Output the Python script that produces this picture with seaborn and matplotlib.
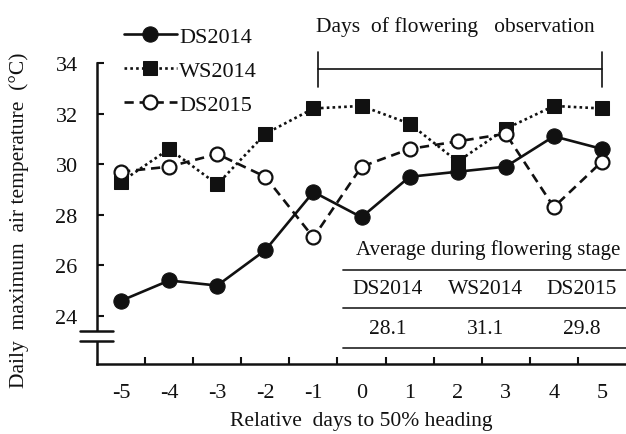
import matplotlib
matplotlib.use("Agg")
import matplotlib.pyplot as plt
import seaborn as sns
import pandas as pd
import numpy as np

days = [-5, -4, -3, -2, -1, 0, 1, 2, 3, 4, 5]
ds2014 = [24.6, 25.4, 25.2, 26.6, 28.9, 27.9, 29.5, 29.7, 29.9, 31.1, 30.6]
ws2014 = [29.3, 30.6, 29.2, 31.2, 32.2, 32.3, 31.6, 30.1, 31.4, 32.3, 32.2]
ds2015 = [29.7, 29.9, 30.4, 29.5, 27.1, 29.9, 30.6, 30.9, 31.2, 28.3, 30.1]
seasons = ["DS2014", "WS2014", "DS2015"]
averages = ["28.1", "31.1", "29.8"]

sns.set_theme(style="white")
plt.rcParams["font.family"] = ["Liberation Serif", "DejaVu Serif"]
plt.rcParams["axes.unicode_minus"] = False
ink = "#111111"

fig = plt.figure(figsize=(6.26, 4.35), dpi=100)
ax = fig.add_axes([0.155, 0.161, 0.845, 0.692])

df = pd.DataFrame({"day": days, "DS2014": ds2014, "WS2014": ws2014, "DS2015": ds2015})

sns.lineplot(data=df, x="day", y="DS2014", ax=ax, color=ink, lw=1.9, ls="-",
             marker="o", markersize=11, markerfacecolor=ink, markeredgecolor=ink,
             label="DS2014")
sns.lineplot(data=df, x="day", y="WS2014", ax=ax, color=ink, lw=1.9, ls=(0, (1, 1.2)),
             marker="s", markersize=10, markerfacecolor=ink, markeredgecolor=ink,
             label="WS2014")
sns.lineplot(data=df, x="day", y="DS2015", ax=ax, color=ink, lw=1.9, ls=(0, (3.5, 2.2)),
             marker="o", markersize=10, markerfacecolor="white", markeredgecolor=ink,
             markeredgewidth=1.6, label="DS2015")

ax.set_xlim(-5.5, 5.5)
ax.set_ylim(22.1, 34)
ax.set_yticks([24, 26, 28, 30, 32, 34])
ax.set_xticks(days)
ax.set_xticks(np.arange(-4.5, 5.0, 1.0), minor=True)
ax.tick_params(axis="x", which="major", length=0, labelsize=16, colors=ink, pad=14)
ax.tick_params(axis="x", which="minor", length=5, width=1.5, direction="in", color=ink, bottom=True)
ax.tick_params(axis="y", which="major", length=5, width=1.5, direction="in", labelsize=16,
               colors=ink, pad=14, left=True)
for s in ["top", "right"]:
    ax.spines[s].set_visible(False)
for s in ["left", "bottom"]:
    ax.spines[s].set_color(ink)
    ax.spines[s].set_linewidth(1.8)

ax.set_xlabel("Relative  days to 50% heading", fontsize=15.5, color=ink, labelpad=6.5)
ax.set_ylabel("Daily  maximum  air temperature  (°C)", fontsize=15.5, color=ink)
ax.yaxis.set_label_coords(-0.128, 0.48)

# axis break
tb = ax.get_yaxis_transform()
ax.add_patch(plt.Rectangle((-0.03, 23.0), 0.06, 0.38, transform=tb, facecolor="white",
                           edgecolor="none", clip_on=False, zorder=5))
for yb in [23.4, 23.0]:
    ax.plot([-0.032, 0.03], [yb, yb], transform=tb, color=ink, lw=1.8, clip_on=False, zorder=6)

# flowering bracket
ax.plot([-0.9, 5.0], [33.76, 33.76], color=ink, lw=1.2, clip_on=False)
for xb in [-0.9, 5.0]:
    ax.plot([xb, xb], [34.43, 33.05], color=ink, lw=1.2, clip_on=False)
ax.text(1.95, 35.45, "Days  of flowering   observation", fontsize=15.5, color=ink,
        ha="center", va="center")

# table
for yl in [25.82, 24.32, 22.74]:
    ax.plot([0.465, 1.0], [yl, yl], transform=ax.get_yaxis_transform(), color="#333333",
            lw=1.3, clip_on=False)
ax.text(2.63, 26.65, "Average during flowering stage", fontsize=15, color=ink,
        ha="center", va="center")
for xc, s, a in zip([0.55, 2.57, 4.58], seasons, averages):
    ax.text(xc, 25.07, s, fontsize=15.5, color=ink, ha="center", va="center")
    ax.text(xc, 23.49, a, fontsize=15.5, color=ink, ha="center", va="center")

leg = ax.legend(loc="upper left", bbox_to_anchor=(0.18, 0.963), bbox_transform=fig.transFigure,
                frameon=False, fontsize=16, handlelength=2.4, handletextpad=0.1,
                labelspacing=0.6, borderpad=0)
for t in leg.get_texts():
    t.set_color(ink)

fig.savefig("out.png", dpi=100)
